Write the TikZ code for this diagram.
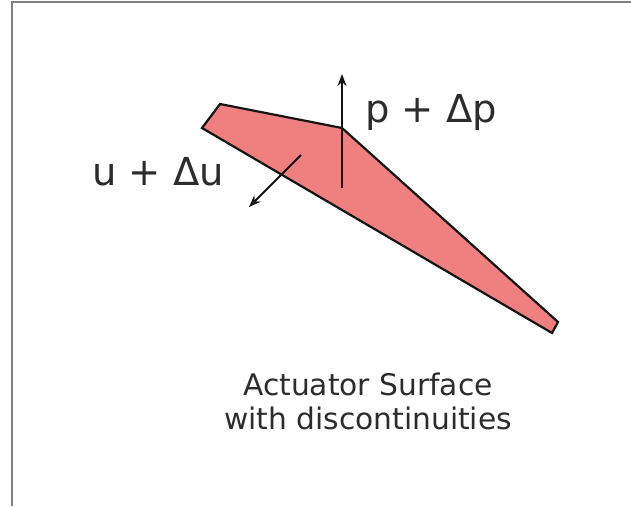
\documentclass[tikz,border=0pt]{standalone}
\usepackage{fontspec}
\setmainfont{DejaVu Sans}
\usepackage{tikz}
\usetikzlibrary{arrows.meta, positioning, calc}
\definecolor{framegray}{RGB}{128,128,128}
\definecolor{surfacered}{RGB}{240,128,128}
\definecolor{darkline}{RGB}{20,20,20}

\begin{document}
\begin{tikzpicture}[
				x=1pt, y=-1pt,
				surface/.style={fill=surfacered, draw=darkline, line width=2.2pt, line join=miter},
				arrow/.style={-{Stealth[length=12pt, width=9pt]}, line width=2pt, color=darkline},
				qlabel/.style={font=\fontsize{38.5}{42}\selectfont, color=darkline!90, inner sep=0pt},
				caption/.style={font=\fontsize{29.7}{34}\selectfont, color=darkline!90, align=center, inner sep=0pt}
				]
				\useasboundingbox (0,0) rectangle (631,506);
				\draw[framegray, line width=2pt] (12,506) |- (631,2);
				
				% Surface corners
				\coordinate (c1) at (220,104);
				\coordinate (c2) at (342,128);
				\coordinate (c3) at (558,322);
				\coordinate (c4) at (552,333);
				\coordinate (c5) at (202,128);
				\draw[surface] (c1) -- (c2) -- (c3) -- (c4) -- (c5) -- cycle;
				
				% Arrow ends
				\coordinate (pfoot) at (342,188);
				\coordinate (ptip) at (342,74);
				\coordinate (ufoot) at (301,155);
				\coordinate (utip) at (249,207);
				
				% Nodes
				\node[qlabel, anchor=base west] (plabel) at (365,122) {p + Δp};
				\node[qlabel, anchor=base west] (ulabel) at (92,185) {u + Δu};
				\node[caption] (surfcap) at (368,401) {Actuator Surface\\with discontinuities};
				
				% Arrows
				\draw[arrow] (pfoot) -- (ptip);
				\draw[arrow] (ufoot) -- (utip);
				
			\end{tikzpicture}
\end{document}
